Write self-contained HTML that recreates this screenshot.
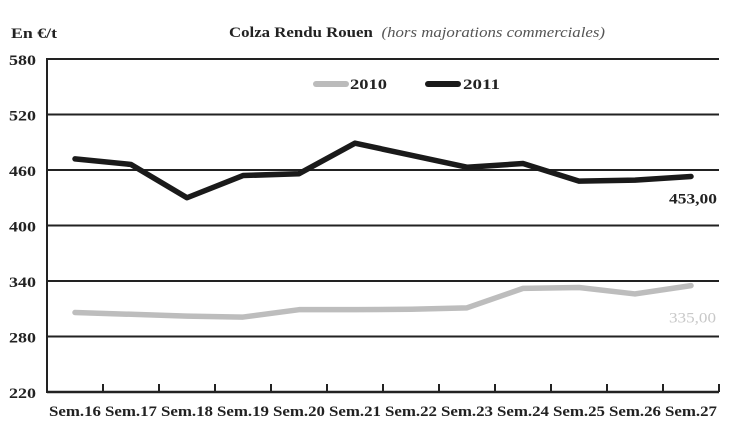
<!DOCTYPE html>
<html><head><meta charset="utf-8"><style>
body{margin:0;background:#fff;width:747px;height:443px;overflow:hidden}
svg text{font-family:"Liberation Serif",serif}
</style></head><body>
<svg id="chart" width="747" height="443" xmlns="http://www.w3.org/2000/svg">
<text x="11" y="38" font-size="15" font-weight="bold" fill="#222" textLength="46" lengthAdjust="spacingAndGlyphs">En €/t</text>
<text x="229" y="37" font-size="15" font-weight="bold" fill="#222" textLength="376" lengthAdjust="spacingAndGlyphs">Colza Rendu Rouen <tspan font-weight="normal" font-style="italic" fill="#555" dx="4">(hors majorations commerciales)</tspan></text>
<g id="grid"></g><g id="axes"></g><g id="series"></g>
<g>
<line x1="316" y1="84" x2="346" y2="84" stroke="#bbb" stroke-width="6" stroke-linecap="round"/>
<text x="350" y="89" font-size="15" font-weight="bold" fill="#222" textLength="37" lengthAdjust="spacingAndGlyphs">2010</text>
<line x1="428" y1="84" x2="458" y2="84" stroke="#1a1a1a" stroke-width="6" stroke-linecap="round"/>
<text x="463" y="89" font-size="15" font-weight="bold" fill="#222" textLength="37" lengthAdjust="spacingAndGlyphs">2011</text>
</g>
</svg>
<script>
const categories=["Sem.16","Sem.17","Sem.18","Sem.19","Sem.20","Sem.21","Sem.22","Sem.23","Sem.24","Sem.25","Sem.26","Sem.27"];
const values2010=[306,304,302,301,309,309,309.5,311,332,333,326,335];
const values2011=[472,466,430,454,456,489,476,463,467,448,449,453];
const yTicks=[220,280,340,400,460,520,580];
const endLabel2010="335,00";
const endLabel2011="453,00";
const L=47,R=719,T=59,B=392,yMin=220,yMax=580;
const NS="http://www.w3.org/2000/svg";
const band=(R-L)/categories.length;
const xs=i=>L+band*(i+0.5);
const ys=v=>B-(v-yMin)/(yMax-yMin)*(B-T);
function mk(t,a,p){const e=document.createElementNS(NS,t);for(const k in a)e.setAttribute(k,a[k]);p.appendChild(e);return e;}
const grid=document.getElementById('grid'),axes=document.getElementById('axes'),ser=document.getElementById('series');
yTicks.forEach(v=>{
 if(v>yMin){const g=mk('line',{x1:L,x2:R,y1:ys(v),y2:ys(v),stroke:'#222','stroke-width':2},grid);
 
 }
 const t=mk('text',{x:9,y:ys(v)+6,'font-size':15,'font-weight':'bold',fill:'#222',textLength:27,lengthAdjust:'spacingAndGlyphs'},axes);t.textContent=v;
 
 
});
const ya=mk('line',{x1:L,x2:L,y1:T-1,y2:B+1,stroke:'#222','stroke-width':2},axes);


const xa=mk('line',{x1:L,x2:R,y1:B,y2:B,stroke:'#222','stroke-width':2.5},axes);


categories.forEach((c,i)=>{
 const tx=L+band*(i+1);
 const tk=mk('line',{x1:tx,x2:tx,y1:B-8,y2:B,stroke:'#222','stroke-width':2},axes);
 
 
 const t=mk('text',{x:xs(i),y:416,'font-size':15,'font-weight':'bold',fill:'#222','text-anchor':'middle',textLength:52,lengthAdjust:'spacingAndGlyphs'},axes);t.textContent=c;
 
 
});
function line(vals,color,name){
 const p=mk('polyline',{points:vals.map((v,i)=>xs(i)+','+ys(v)).join(' '),fill:'none',stroke:color,'stroke-width':5.5,'stroke-linejoin':'round','stroke-linecap':'round'},ser);
 
 
}
line(values2010,'#bdbdbd','line-2010');
line(values2011,'#1a1a1a','line-2011');
const n=categories.length-1;
const l1=mk('text',{x:717,y:ys(values2011[n])+27,'font-size':15,'font-weight':'bold',fill:'#222','text-anchor':'end',textLength:48,lengthAdjust:'spacingAndGlyphs'},ser);l1.textContent=endLabel2011;


const l2=mk('text',{x:716,y:ys(values2010[n])+37,'font-size':15,fill:'#c8c8c8','text-anchor':'end',textLength:47,lengthAdjust:'spacingAndGlyphs'},ser);l2.textContent=endLabel2010;


</script>
</body></html>
